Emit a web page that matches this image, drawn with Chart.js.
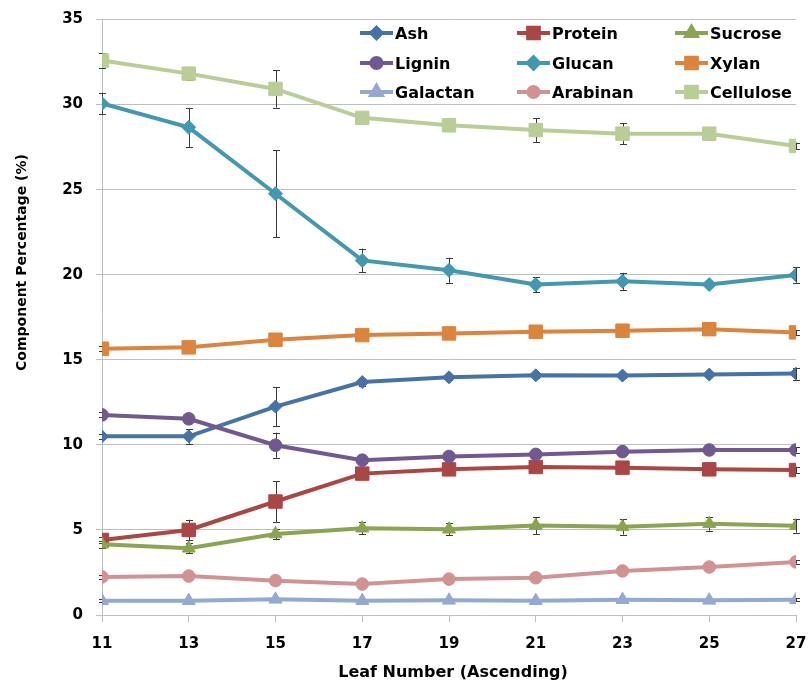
<!DOCTYPE html>
<html>
<head>
<meta charset="utf-8">
<script src="https://cdn.jsdelivr.net/npm/chart.js@4.4.1/dist/chart.umd.min.js"></script>
<style>
  html, body { margin: 0; padding: 0; background: #ffffff; }
  #wrap { width: 809px; height: 681px; }
</style>
</head>
<body>
<div id="wrap"><canvas id="c" width="809" height="681"></canvas></div>
<script>
// Leaf positions along the stalk
const leaves = [11, 13, 15, 17, 19, 21, 23, 25, 27];

// Component percentages (%) per leaf
const ash       = [10.5, 10.5, 12.25, 13.69, 13.97, 14.09, 14.07, 14.13, 14.19];
const protein   = [4.41, 5.0, 6.67, 8.31, 8.56, 8.7, 8.66, 8.56, 8.52];
const sucrose   = [4.16, 3.92, 4.76, 5.1, 5.04, 5.26, 5.18, 5.36, 5.24];
const lignin    = [11.76, 11.53, 9.98, 9.1, 9.32, 9.44, 9.6, 9.7, 9.7];
const glucan    = [30.06, 28.66, 24.76, 20.84, 20.26, 19.42, 19.61, 19.42, 19.99];
const xylan     = [15.65, 15.73, 16.18, 16.45, 16.55, 16.65, 16.71, 16.8, 16.61];
const galactan  = [0.84, 0.84, 0.92, 0.84, 0.86, 0.84, 0.9, 0.86, 0.9];
const arabinan  = [2.24, 2.29, 2.02, 1.82, 2.11, 2.19, 2.59, 2.82, 3.12];
const cellulose = [32.59, 31.82, 30.92, 29.22, 28.78, 28.5, 28.29, 28.29, 27.57];

// Standard deviations (±) per leaf
const ashErr       = [0.15, 0.43, 1.15, 0.25, 0.15, 0.15, 0.15, 0.15, 0.35];
const proteinErr   = [0.15, 0.6, 1.2, 0.2, 0.2, 0.2, 0.2, 0.2, 0.2];
const sucroseErr   = [0.2, 0.3, 0.3, 0.35, 0.35, 0.5, 0.45, 0.4, 0.4];
const ligninErr    = [0.15, 0.25, 0.74, 0.15, 0.15, 0.15, 0.15, 0.15, 0.15];
const glucanErr    = [0.63, 1.15, 2.57, 0.7, 0.74, 0.45, 0.5, 0.15, 0.46];
const xylanErr     = [0.15, 0.15, 0.15, 0.15, 0.15, 0.15, 0.15, 0.15, 0.15];
const galactanErr  = [0.1, 0.1, 0.1, 0.1, 0.1, 0.1, 0.1, 0.1, 0.1];
const arabinanErr  = [0.1, 0.1, 0.1, 0.1, 0.1, 0.1, 0.1, 0.1, 0.1];
const celluloseErr = [0.45, 0.4, 1.1, 0.3, 0.2, 0.7, 0.63, 0.4, 0.2];

// Y axis tick values and axis titles
const yTicks = [0, 5, 10, 15, 20, 25, 30, 35];
const xTitle = 'Leaf Number (Ascending)';
const yTitle = 'Component Percentage (%)';

const FONT = '"DejaVu Sans", "Open Sans", sans-serif';

const seriesDefs = [
  { label: 'Ash',       data: ash,       err: ashErr,       color: '#4572A7', style: 'rectRot',  r: 6.5 },
  { label: 'Protein',   data: protein,   err: proteinErr,   color: '#AA4643', style: 'rect',     r: 9.5 },
  { label: 'Sucrose',   data: sucrose,   err: sucroseErr,   color: '#89A54E', style: 'triangle', r: 7.5 },
  { label: 'Lignin',    data: lignin,    err: ligninErr,    color: '#71588F', style: 'circle',   r: 6.3 },
  { label: 'Glucan',    data: glucan,    err: glucanErr,    color: '#4198AF', style: 'rectRot',  r: 7 },
  { label: 'Xylan',     data: xylan,     err: xylanErr,     color: '#DB843D', style: 'rect',     r: 9.5 },
  { label: 'Galactan',  data: galactan,  err: galactanErr,  color: '#93A9CF', style: 'triangle', r: 7.5 },
  { label: 'Arabinan',  data: arabinan,  err: arabinanErr,  color: '#D19392', style: 'circle',   r: 6.3 },
  { label: 'Cellulose', data: cellulose, err: celluloseErr, color: '#B9CD96', style: 'rect',     r: 9.5 }
];

const datasets = seriesDefs.map((s, i) => ({
  label: s.label,
  data: leaves.map((x, k) => ({ x: x, y: s.data[k] })),
  errors: s.err,
  borderColor: s.color,
  backgroundColor: s.color,
  pointBackgroundColor: s.color,
  pointBorderColor: s.color,
  pointBorderWidth: 1,
  pointStyle: s.style,
  pointRadius: s.r,
  pointHoverRadius: s.r,
  borderWidth: 4,
  tension: 0,
  order: seriesDefs.length - i
}));

// Vertical error bars with small caps, drawn beneath the series
const errorBars = {
  id: 'errorBars',
  beforeDatasetsDraw(chart) {
    const { ctx, scales: { x, y } } = chart;
    ctx.save();
    ctx.strokeStyle = '#3a3a3a';
    ctx.lineWidth = 1;
    chart.data.datasets.forEach(ds => {
      ds.data.forEach((p, k) => {
        const e = ds.errors[k];
        if (!e) return;
        const px = Math.round(x.getPixelForValue(p.x)) + 0.5;
        const top = y.getPixelForValue(p.y + e);
        const bot = y.getPixelForValue(p.y - e);
        ctx.beginPath();
        ctx.moveTo(px, top); ctx.lineTo(px, bot);
        ctx.moveTo(px - 3.5, Math.round(top) + 0.5); ctx.lineTo(px + 3.5, Math.round(top) + 0.5);
        ctx.moveTo(px - 3.5, Math.round(bot) + 0.5); ctx.lineTo(px + 3.5, Math.round(bot) + 0.5);
        ctx.stroke();
      });
    });
    ctx.restore();
  }
};

// Three-column legend inside the plot, top right
const gridLegend = {
  id: 'gridLegend',
  afterDraw(chart) {
    const ctx = chart.ctx;
    const colX = [360, 517, 675];
    const rowY = [33, 63, 92];
    ctx.save();
    ctx.font = 'bold 16px ' + FONT;
    ctx.textBaseline = 'alphabetic';
    ctx.textAlign = 'left';
    chart.data.datasets.forEach((ds, i) => {
      const cx = colX[i % 3];
      const cy = rowY[Math.floor(i / 3)];
      ctx.strokeStyle = ds.borderColor;
      ctx.lineWidth = 4;
      ctx.beginPath();
      ctx.moveTo(cx, cy); ctx.lineTo(cx + 33, cy);
      ctx.stroke();
      ctx.fillStyle = ds.borderColor;
      Chart.helpers.drawPoint(ctx, {
        pointStyle: ds.pointStyle,
        radius: ds.pointRadius * 0.8,
        rotation: 0,
        borderWidth: 1
      }, cx + 16.5, cy);
      ctx.fillStyle = '#000000';
      ctx.fillText(ds.label, cx + 35, cy + 6);
    });
    ctx.restore();
  }
};

// Axis titles
const axisTitles = {
  id: 'axisTitles',
  afterDraw(chart) {
    const ctx = chart.ctx;
    ctx.save();
    ctx.fillStyle = '#000000';
    ctx.textAlign = 'center';
    ctx.textBaseline = 'alphabetic';
    ctx.font = 'bold 16px ' + FONT;
    ctx.fillText(xTitle, 453, 677);
    ctx.font = 'bold 14px ' + FONT;
    ctx.translate(26, 262.5);
    ctx.rotate(-Math.PI / 2);
    ctx.fillText(yTitle, 0, 0);
    ctx.restore();
  }
};

new Chart(document.getElementById('c'), {
  type: 'line',
  data: { datasets: datasets },
  options: {
    responsive: false,
    animation: false,
    events: [],
    layout: { padding: { top: 19.5, right: 13, left: 0, bottom: 0 } },
    plugins: { legend: { display: false }, tooltip: { enabled: false }, title: { display: false } },
    scales: {
      x: {
        type: 'linear',
        min: leaves[0],
        max: leaves[leaves.length - 1],
        afterFit(scale) {
          scale.height = 66;
          scale.paddingLeft = 0;
          scale.paddingRight = 0;
        },
        afterBuildTicks(scale) { scale.ticks = leaves.map(v => ({ value: v })); },
        ticks: {
          color: '#000000',
          font: { family: FONT, size: 15, weight: 'bold' },
          padding: 13,
          maxRotation: 0,
          autoSkip: false
        },
        grid: { drawOnChartArea: false, drawTicks: true, tickLength: 7, color: '#BDBDBD' },
        border: { display: true, color: '#BDBDBD', width: 1 }
      },
      y: {
        min: 0,
        max: 35,
        afterFit(scale) {
          scale.width = 102;
          scale.paddingTop = 0;
          scale.paddingBottom = 0;
        },
        afterBuildTicks(scale) { scale.ticks = yTicks.map(v => ({ value: v })); },
        ticks: {
          color: '#000000',
          font: { family: FONT, size: 15, weight: 'bold' },
          padding: 13
        },
        grid: { color: '#BDBDBD', lineWidth: 1, tickLength: 6, drawTicks: true },
        border: { display: true, color: '#BDBDBD', width: 1 }
      }
    }
  },
  plugins: [errorBars, gridLegend, axisTitles]
});
</script>
</body>
</html>
